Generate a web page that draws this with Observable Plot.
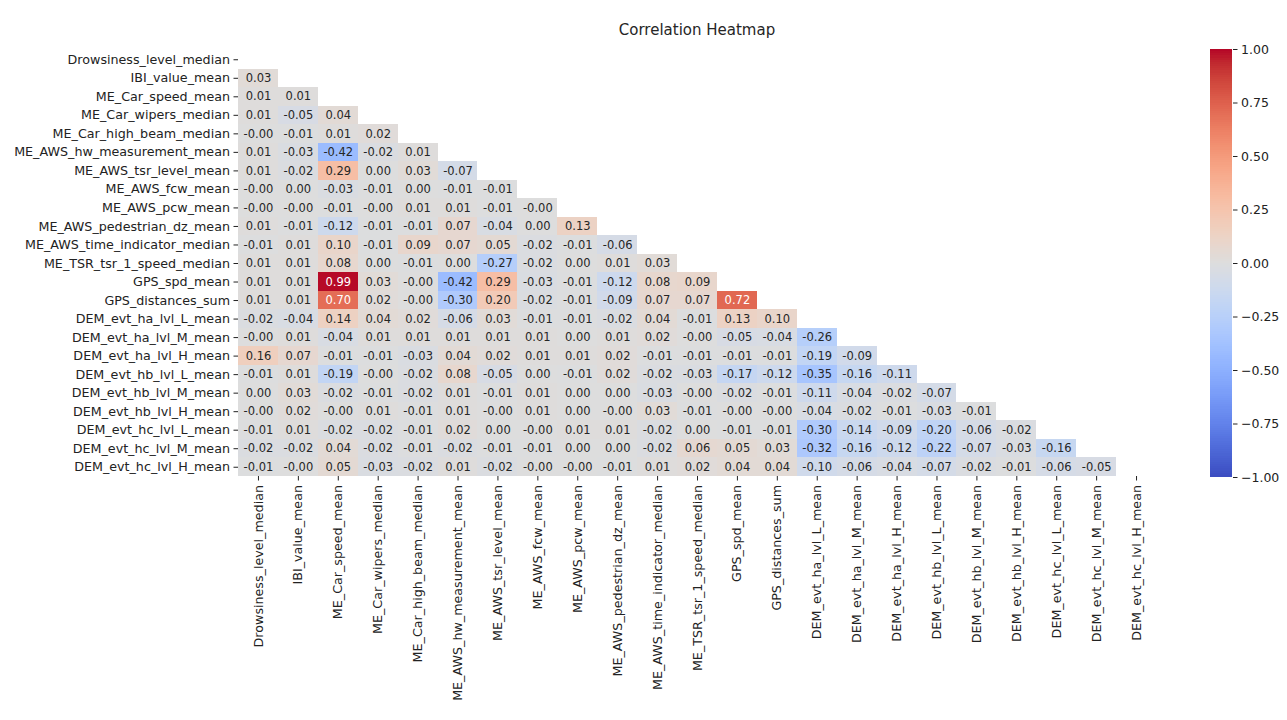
<!DOCTYPE html>
<html><head><meta charset="utf-8">
<script src="https://cdn.jsdelivr.net/npm/d3@7"></script>
<script src="https://cdn.jsdelivr.net/npm/@observablehq/plot@0.6"></script>
<style>
body{margin:0;background:#fff;font-family:"DejaVu Sans",sans-serif;}
#wrap{position:relative;width:1287px;height:720px;overflow:hidden;}
#title{position:absolute;left:238px;width:918px;top:21px;text-align:center;font-size:15px;color:#262626;line-height:18px;}
#main{position:absolute;left:0;top:0;width:1166px;height:720px;}
#cbar{position:absolute;left:1198px;top:0;width:90px;height:490px;}
svg{overflow:visible;max-width:none !important;}
</style></head><body>
<div id="wrap"><div id="title">Correlation Heatmap</div><div id="main"></div><div id="cbar"></div></div>
<script>
const variables = [
  "Drowsiness_level_median","IBI_value_mean","ME_Car_speed_mean","ME_Car_wipers_median",
  "ME_Car_high_beam_median","ME_AWS_hw_measurement_mean","ME_AWS_tsr_level_mean","ME_AWS_fcw_mean",
  "ME_AWS_pcw_mean","ME_AWS_pedestrian_dz_mean","ME_AWS_time_indicator_median","ME_TSR_tsr_1_speed_median",
  "GPS_spd_mean","GPS_distances_sum","DEM_evt_ha_lvl_L_mean","DEM_evt_ha_lvl_M_mean",
  "DEM_evt_ha_lvl_H_mean","DEM_evt_hb_lvl_L_mean","DEM_evt_hb_lvl_M_mean","DEM_evt_hb_lvl_H_mean",
  "DEM_evt_hc_lvl_L_mean","DEM_evt_hc_lvl_M_mean","DEM_evt_hc_lvl_H_mean"
];

// lower triangle of the correlation matrix, row by row (as printed)
const lowerTriangle = [
  [],
  ["0.03"],
  ["0.01","0.01"],
  ["0.01","-0.05","0.04"],
  ["-0.00","-0.01","0.01","0.02"],
  ["0.01","-0.03","-0.42","-0.02","0.01"],
  ["0.01","-0.02","0.29","0.00","0.03","-0.07"],
  ["-0.00","0.00","-0.03","-0.01","0.00","-0.01","-0.01"],
  ["-0.00","-0.00","-0.01","-0.00","0.01","0.01","-0.01","-0.00"],
  ["0.01","-0.01","-0.12","-0.01","-0.01","0.07","-0.04","0.00","0.13"],
  ["-0.01","0.01","0.10","-0.01","0.09","0.07","0.05","-0.02","-0.01","-0.06"],
  ["0.01","0.01","0.08","0.00","-0.01","0.00","-0.27","-0.02","0.00","0.01","0.03"],
  ["0.01","0.01","0.99","0.03","-0.00","-0.42","0.29","-0.03","-0.01","-0.12","0.08","0.09"],
  ["0.01","0.01","0.70","0.02","-0.00","-0.30","0.20","-0.02","-0.01","-0.09","0.07","0.07","0.72"],
  ["-0.02","-0.04","0.14","0.04","0.02","-0.06","0.03","-0.01","-0.01","-0.02","0.04","-0.01","0.13","0.10"],
  ["-0.00","0.01","-0.04","0.01","0.01","0.01","0.01","0.01","0.00","0.01","0.02","-0.00","-0.05","-0.04","-0.26"],
  ["0.16","0.07","-0.01","-0.01","-0.03","0.04","0.02","0.01","0.01","0.02","-0.01","-0.01","-0.01","-0.01","-0.19","-0.09"],
  ["-0.01","0.01","-0.19","-0.00","-0.02","0.08","-0.05","0.00","-0.01","0.02","-0.02","-0.03","-0.17","-0.12","-0.35","-0.16","-0.11"],
  ["0.00","0.03","-0.02","-0.01","-0.02","0.01","-0.01","0.01","0.00","0.00","-0.03","-0.00","-0.02","-0.01","-0.11","-0.04","-0.02","-0.07"],
  ["-0.00","0.02","-0.00","0.01","-0.01","0.01","-0.00","0.01","0.00","-0.00","0.03","-0.01","-0.00","-0.00","-0.04","-0.02","-0.01","-0.03","-0.01"],
  ["-0.01","0.01","-0.02","-0.02","-0.01","0.02","0.00","-0.00","0.01","0.01","-0.02","0.00","-0.01","-0.01","-0.30","-0.14","-0.09","-0.20","-0.06","-0.02"],
  ["-0.02","-0.02","0.04","-0.02","-0.01","-0.02","-0.01","-0.01","0.00","0.00","-0.02","0.06","0.05","0.03","-0.32","-0.16","-0.12","-0.22","-0.07","-0.03","-0.16"],
  ["-0.01","-0.00","0.05","-0.03","-0.02","0.01","-0.02","-0.00","-0.00","-0.01","0.01","0.02","0.04","0.04","-0.10","-0.06","-0.04","-0.07","-0.02","-0.01","-0.06","-0.05"]
];

const colorbarTicks = [-1, -0.75, -0.5, -0.25, 0, 0.25, 0.5, 0.75, 1];

// matplotlib "coolwarm" control colours (Moreland)
const coolwarmStops = [
  "rgb(59,76,192)","rgb(68,90,204)","rgb(77,104,215)","rgb(87,117,225)","rgb(98,130,234)",
  "rgb(108,142,241)","rgb(119,154,247)","rgb(130,165,251)","rgb(141,176,254)","rgb(152,185,255)",
  "rgb(163,194,255)","rgb(174,201,253)","rgb(184,208,249)","rgb(194,213,244)","rgb(204,217,238)",
  "rgb(213,219,230)","rgb(221,221,221)","rgb(229,216,209)","rgb(236,211,197)","rgb(241,204,185)",
  "rgb(245,196,173)","rgb(247,187,160)","rgb(247,177,148)","rgb(247,166,135)","rgb(244,154,123)",
  "rgb(241,141,111)","rgb(236,127,99)","rgb(229,112,88)","rgb(222,96,77)","rgb(213,80,66)",
  "rgb(203,62,56)","rgb(192,40,47)","rgb(180,4,38)"
];
const coolwarm = d3.piecewise(d3.interpolateRgb, coolwarmStops);

const cells = [];
lowerTriangle.forEach((row, i) => row.forEach((s, j) => {
  cells.push({row: variables[i], col: variables[j], label: s, value: +s});
}));

const colorScale = {type: "linear", domain: [-1, 1], interpolate: coolwarm};

const main = Plot.plot({
  width: 1166, height: 720,
  marginLeft: 238, marginRight: 10, marginTop: 50, marginBottom: 244,
  style: {fontFamily: "DejaVu Sans, sans-serif", fontSize: "12.7px", color: "#222", background: "transparent"},
  x: {domain: variables, padding: 0, round: false, tickRotate: -90, tickSize: 4.5, tickPadding: 4, label: null},
  y: {domain: variables, padding: 0, round: false, tickSize: 4.5, tickPadding: 4, label: null},
  color: colorScale,
  marks: [
    Plot.cell(cells, {x: "col", y: "row", fill: "value", inset: 0, shapeRendering: "crispEdges"}),
    Plot.text(cells.filter(d => Math.abs(d.value) <= 0.6), {x: "col", y: "row", text: "label", fill: "#262626", fontSize: 11.5}),
    Plot.text(cells.filter(d => Math.abs(d.value) > 0.6), {x: "col", y: "row", text: "label", fill: "white", fontSize: 11.5})
  ]
});
document.getElementById("main").appendChild(main);

const ramp = d3.range(200).map(i => ({y1: -1 + i * 0.01, y2: -1 + (i + 1) * 0.01 + 0.002, v: -1 + (i + 0.5) * 0.01}));
const cbar = Plot.plot({
  width: 90, height: 490,
  marginLeft: 12, marginRight: 56, marginTop: 49, marginBottom: 13,
  style: {fontFamily: "DejaVu Sans, sans-serif", fontSize: "12.5px", color: "#222", background: "transparent"},
  x: {domain: [0, 1], axis: null},
  y: {domain: [-1, 1], axis: "right", ticks: colorbarTicks, tickFormat: ".2f", tickSize: 4.5, tickPadding: 4, label: null},
  color: colorScale,
  marks: [
    Plot.rect(ramp, {x1: 0, x2: 1, y1: "y1", y2: "y2", fill: "v", inset: 0, shapeRendering: "crispEdges"})
  ]
});
document.getElementById("cbar").appendChild(cbar);
</script>
</body></html>
